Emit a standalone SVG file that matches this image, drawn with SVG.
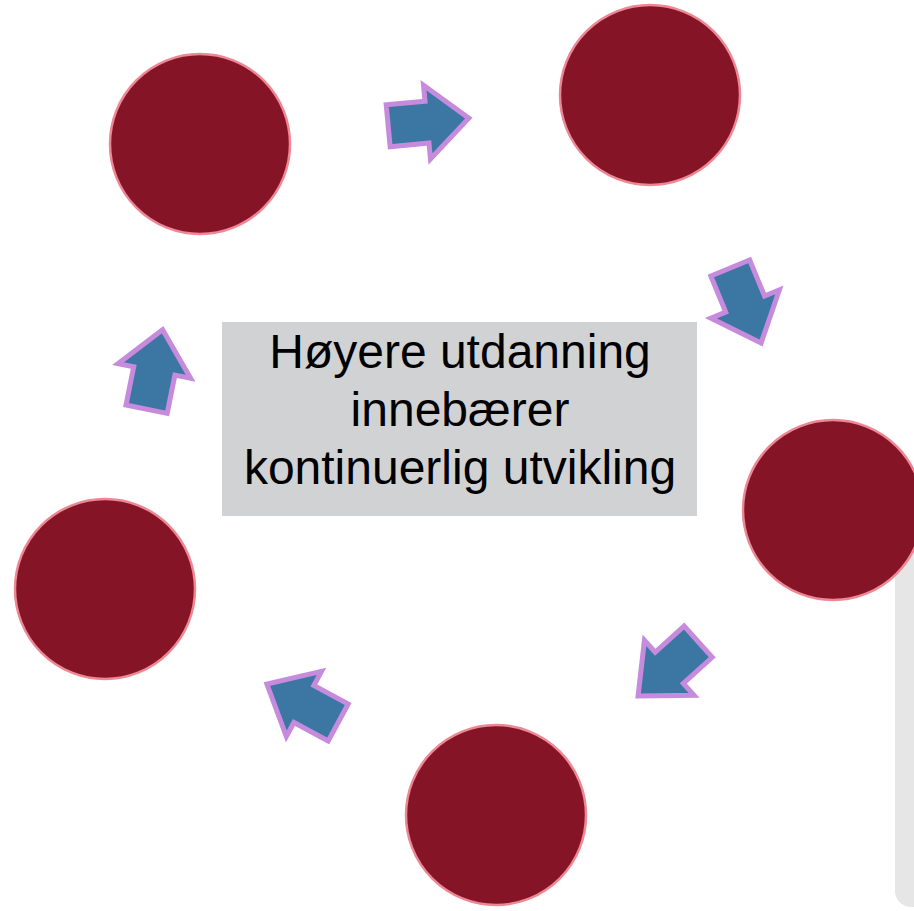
<svg xmlns="http://www.w3.org/2000/svg" width="914" height="911" viewBox="0 0 914 911">
<style>
.node{fill:#841426;stroke:#ee8794;stroke-width:2.5}
.arr{fill:#3c76a3;stroke:#c68bdc;stroke-width:5;stroke-linejoin:miter}
.lbl{font-family:"Liberation Sans",Arial,sans-serif;font-size:48px;fill:#000;text-anchor:middle}
</style>
<defs>
<polygon id="ar" points="-40,-21 -1,-21 -1,-37 41,0 -1,37 -1,21 -40,21"/>
</defs>
<rect x="895" y="540" width="40" height="367" rx="16" fill="#e6e6e6"/>
<g id="center">
<rect x="222" y="322" width="475" height="194" fill="#d1d2d4"/>
<text class="lbl" x="460" y="368">Høyere utdanning</text>
<text class="lbl" x="460" y="426">innebærer</text>
<text class="lbl" x="460" y="484">kontinuerlig utvikling</text>
</g>
<g id="n1"><circle class="node" cx="200" cy="144" r="90"/></g>
<g id="n2"><circle class="node" cx="650" cy="95" r="90"/></g>
<g id="n3"><circle class="node" cx="833" cy="510" r="90"/></g>
<g id="n4"><circle class="node" cx="496" cy="815" r="90"/></g>
<g id="n5"><circle class="node" cx="105" cy="589" r="90"/></g>
<g id="connectors">
<use href="#ar" class="arr" transform="translate(428,122) rotate(-5.4)"/>
<use href="#ar" class="arr" transform="translate(745.5,305) rotate(67.6)"/>
<use href="#ar" class="arr" transform="translate(668.5,668.5) rotate(137.9)"/>
<use href="#ar" class="arr" transform="translate(303,703.5) rotate(208.3)"/>
<use href="#ar" class="arr" transform="translate(154.5,370) rotate(-78.6)"/>
</g>
</svg>
